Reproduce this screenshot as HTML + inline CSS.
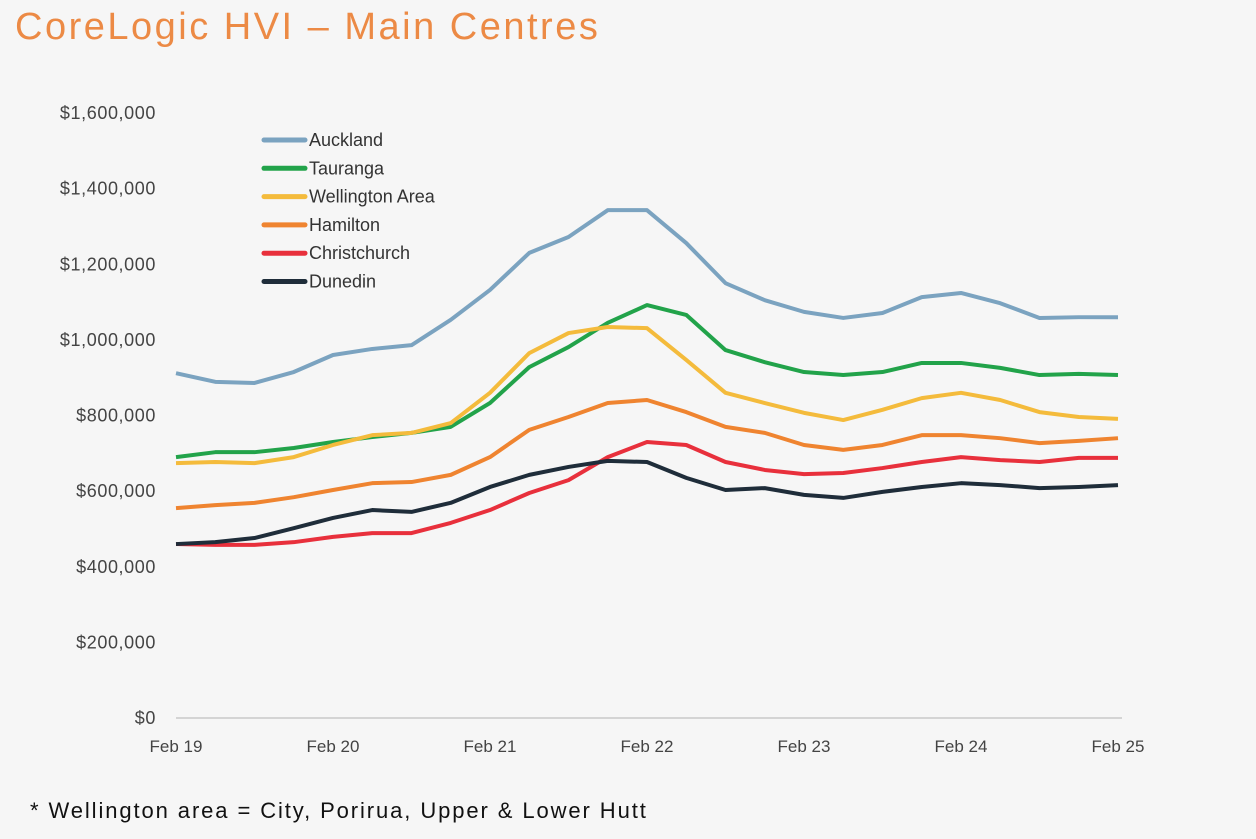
<!DOCTYPE html>
<html><head><meta charset="utf-8"><style>
body{margin:0;background:#f6f6f6;width:1256px;height:839px;overflow:hidden;font-family:"Liberation Sans",sans-serif}
#title{position:absolute;left:15px;top:6px;font-size:38px;letter-spacing:2.5px;color:#ec8a45}
#foot{position:absolute;left:30px;top:798px;font-size:22px;letter-spacing:1.9px;color:#111}
svg{position:absolute;left:0;top:0}
</style></head><body>
<div id="title">CoreLogic HVI – Main Centres</div>
<svg id="chart" width="1256" height="839"></svg>
<div id="foot">* Wellington area = City, Porirua, Upper &amp; Lower Hutt</div>
<script>
const xLabels=["Feb 19","Feb 20","Feb 21","Feb 22","Feb 23","Feb 24","Feb 25"];
const yTicks=[0,200000,400000,600000,800000,1000000,1200000,1400000,1600000];
const seriesNames=["Auckland","Tauranga","Wellington Area","Hamilton","Christchurch","Dunedin"];
const seriesColors=["#7ba3c0","#22a34a","#f4bb3c","#ef8430","#e8303c","#1f2d3a"];
// quarterly values (thousands), Feb 19 .. Feb 25
const auckland=[912,889,886,915,960,976,986,1053,1132,1230,1272,1343,1343,1256,1150,1105,1074,1058,1071,1113,1124,1097,1058,1060,1060];
const tauranga=[690,703,703,714,730,743,754,770,833,928,981,1045,1092,1066,973,941,915,907,915,939,939,926,907,910,907];
const wellington=[674,677,674,690,722,748,754,780,860,965,1018,1034,1031,947,860,833,807,788,815,846,860,841,809,796,791];
const hamilton=[555,563,569,584,603,621,624,643,690,762,796,833,841,809,770,754,722,709,722,748,748,740,727,733,740];
const christchurch=[460,458,458,465,479,489,489,516,550,595,629,690,730,722,677,656,645,648,661,677,690,682,677,688,688];
const dunedin=[460,465,476,502,529,550,545,569,611,643,664,680,677,635,603,608,590,582,598,611,621,616,608,611,616];
const allSeries=[auckland,tauranga,wellington,hamilton,christchurch,dunedin];

const svg=document.getElementById('chart');const NS="http://www.w3.org/2000/svg";
const X0=176,X1=1118,Y0=718,Y1=113;
const xScale=i=>X0+(X1-X0)*i/(auckland.length-1);
const yScale=v=>Y0-(Y0-Y1)*v/1600000;
function mk(t,a){const e=document.createElementNS(NS,t);for(const k in a)e.setAttribute(k,a[k]);svg.appendChild(e);return e;}
const ax=mk('line',{x1:X0,x2:1122,y1:Y0,y2:Y0,stroke:'#c8c8c8','stroke-width':1.5});


yTicks.forEach(v=>{const t=mk('text',{x:156,y:yScale(v)+6,'text-anchor':'end','font-size':18,'letter-spacing':0.6,fill:'#444','font-family':'Liberation Sans, sans-serif'});
t.textContent='$'+v.toLocaleString('en-US');

});
xLabels.forEach((l,i)=>{const t=mk('text',{x:X0+(X1-X0)*i/(xLabels.length-1),y:752,'text-anchor':'middle','font-size':17,fill:'#444','font-family':'Liberation Sans, sans-serif'});
t.textContent=l;

});
allSeries.forEach((s,k)=>{
const p=mk('polyline',{points:s.map((v,i)=>xScale(i)+','+yScale(v*1000)).join(' '),fill:'none',stroke:seriesColors[k],'stroke-width':4,'stroke-linejoin':'round'});


const ly=140+k*28.3;
const ll=mk('line',{x1:264,x2:305,y1:ly,y2:ly,stroke:seriesColors[k],'stroke-width':5,'stroke-linecap':'round'});


const lt=mk('text',{x:309,y:ly+6,'font-size':18,fill:'#333','font-family':'Liberation Sans, sans-serif'});
lt.textContent=seriesNames[k];


});
</script>
</body></html>
